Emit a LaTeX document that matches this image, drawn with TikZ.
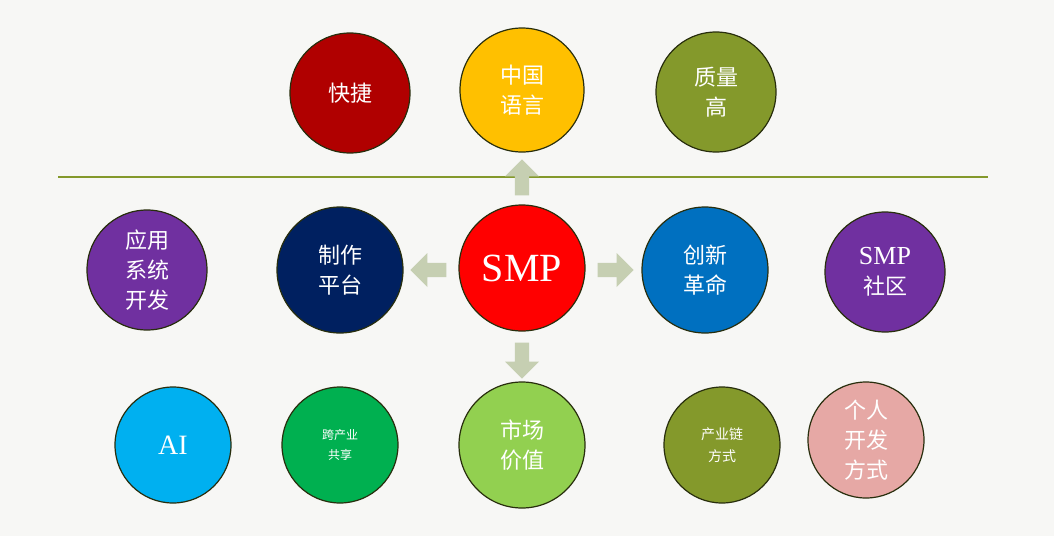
\documentclass[tikz,border=0pt]{standalone}
\usepackage{fontspec}
\setmainfont{Liberation Serif}
\newfontfamily\cjk{Noto Sans CJK SC}
\usetikzlibrary{shapes.arrows}
\definecolor{bg}{HTML}{F7F7F5}
\definecolor{olive}{HTML}{84992B}
\definecolor{arr}{HTML}{C6CFB2}
\tikzset{
 ball/.style={circle,draw=black!70!olive,line width=0.6pt,minimum size=#1*1pt,inner sep=0pt,align=center,text=white,font=\cjk\fontsize{11}{15}\selectfont},
 blk/.style={single arrow,fill=arr,draw=none,minimum height=18pt,minimum width=17pt,single arrow head extend=3pt,inner sep=2pt}
}
\begin{document}
\begin{tikzpicture}[x=0.5pt,y=-0.5pt]
\fill[bg] (0,0) rectangle (1054,536);
\useasboundingbox (0,0) rectangle (1054,536);
\node[ball=60,fill={rgb,255:red,176;green,0;blue,0}] (kj) at (350,93) {快捷};
\node[ball=62,fill={rgb,255:red,255;green,192;blue,0}] (zg) at (522,90) {中国\\语言};
\node[ball=60,fill=olive] (zl) at (716,92) {质量\\高};
\draw[olive,line width=0.8pt] (58,177) -- (988,177);
\node[ball=60,fill={rgb,255:red,112;green,48;blue,160}] (yy) at (147,270) {应用\\系统\\开发};
\node[ball=63,fill={rgb,255:red,0;green,32;blue,96}] (zz) at (340,270) {制作\\平台};
\node[ball=63,fill=red,font=\fontsize{20}{24}\selectfont] (smp) at (522,268) {SMP};
\node[ball=63,fill={rgb,255:red,0;green,112;blue,192}] (cx) at (705,270) {创新\\革命};
\node[ball=60,fill={rgb,255:red,112;green,48;blue,160},font=\cjk\fontsize{11}{15}\selectfont] (sq) at (885,272) {{\rmfamily\fontsize{13}{15}\selectfont SMP}\\社区};
\node[ball=58,fill={rgb,255:red,0;green,176;blue,240},font=\fontsize{14}{16}\selectfont] (ai) at (173,445) {AI};
\node[ball=58,fill={rgb,255:red,0;green,176;blue,80},font=\cjk\fontsize{6}{10}\selectfont] (ky) at (340,445) {跨产业\\共享};
\node[ball=63,fill={rgb,255:red,146;green,208;blue,80}] (sc) at (522,445) {市场\\价值};
\node[ball=58,fill=olive,font=\cjk\fontsize{7}{11}\selectfont] (cy) at (722,445) {产业链\\方式};
\node[ball=58,fill={rgb,255:red,230;green,168;blue,165}] (gr) at (866,440) {个人\\开发\\方式};
\node[blk,rotate=90] at (522,181) {};
\node[blk,rotate=180] at (432,270) {};
\node[blk] at (612,270) {};
\node[blk,rotate=-90] at (522,357) {};
\end{tikzpicture}
\end{document}
